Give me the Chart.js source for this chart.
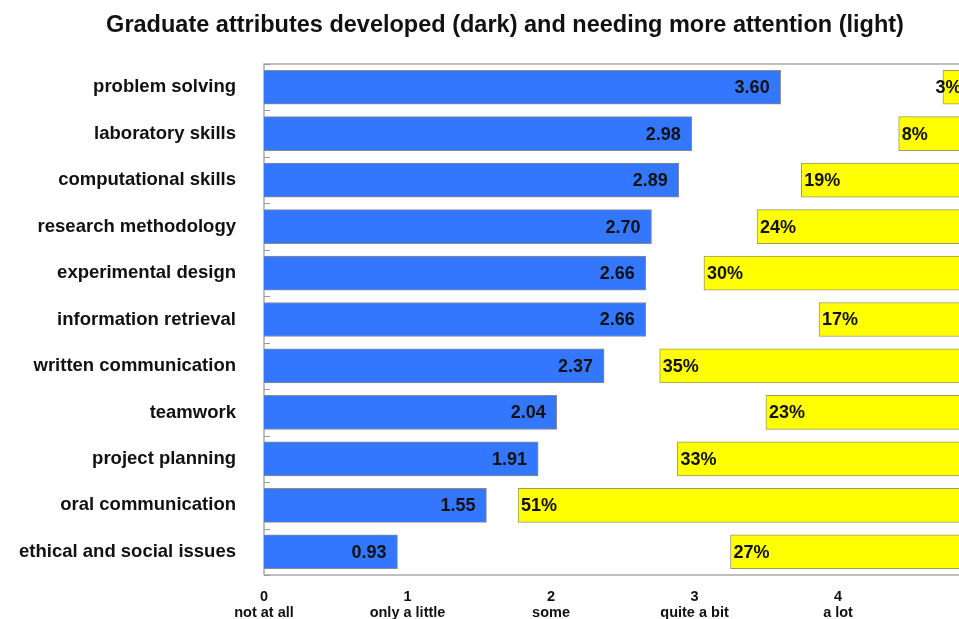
<!DOCTYPE html>
<html>
<head>
<meta charset="utf-8">
<script src="https://cdn.jsdelivr.net/npm/chart.js@4/dist/chart.umd.min.js"></script>
<style>
  html, body { margin: 0; padding: 0; overflow: hidden; background: #fff; }
  #wrap { width: 1010px; height: 619px; }
</style>
</head>
<body>
<div id="wrap"><canvas id="attrs" width="1010" height="619"></canvas></div>
<script>
// data
const attributes = ["problem solving", "laboratory skills", "computational skills",
  "research methodology", "experimental design", "information retrieval",
  "written communication", "teamwork", "project planning", "oral communication",
  "ethical and social issues"];
const developed = [3.60, 2.98, 2.89, 2.70, 2.66, 2.66, 2.37, 2.04, 1.91, 1.55, 0.93];
const needMore = [3, 8, 19, 24, 30, 17, 35, 23, 33, 51, 27];
const tickNumbers = ["0", "1", "2", "3", "4"];
const tickWords = ["not at all", "only a little", "some", "quite a bit", "a lot"];
const titleText = 'Graduate attributes developed (dark) and needing more attention (light)';

const FONT = "'Liberation Sans', Arial, sans-serif";

// frame + little inner ticks on the left axis + title (centred on the full page)
const framePlugin = {
  id: 'frame',
  beforeDatasetsDraw(chart) {
    const {ctx, chartArea: a} = chart;
    ctx.save();
    ctx.strokeStyle = '#aaa';
    ctx.lineWidth = 1.5;
    ctx.beginPath();
    ctx.moveTo(a.left, a.bottom); ctx.lineTo(a.left, a.top); ctx.lineTo(a.right, a.top);
    ctx.moveTo(a.left, a.bottom); ctx.lineTo(a.right, a.bottom);
    ctx.stroke();
    const step = (a.bottom - a.top) / attributes.length;
    ctx.strokeStyle = '#999';
    ctx.lineWidth = 1;
    for (let i = 0; i <= attributes.length; i++) {
      const y = Math.round(a.top + i * step) + 0.5;
      ctx.beginPath(); ctx.moveTo(a.left, y); ctx.lineTo(a.left + 6, y); ctx.stroke();
    }
    ctx.font = 'bold 23.5px ' + FONT;
    ctx.fillStyle = '#111';
    ctx.textAlign = 'center';
    ctx.textBaseline = 'middle';
    ctx.fillText(titleText, 505, 26);
    ctx.restore();
  }
};

const labelPlugin = {
  id: 'barLabels',
  afterDatasetsDraw(chart) {
    const {ctx, chartArea: a} = chart;
    ctx.save();
    ctx.font = 'bold 18px ' + FONT;
    ctx.fillStyle = '#111';
    ctx.textBaseline = 'middle';
    chart.getDatasetMeta(0).data.forEach((bar, i) => {
      ctx.textAlign = 'right';
      ctx.fillText(developed[i].toFixed(2), bar.x - 11, bar.y + 1);
    });
    chart.getDatasetMeta(1).data.forEach((bar, i) => {
      const txt = needMore[i] + '%';
      const w = ctx.measureText(txt).width;
      const left = Math.min(bar.x + 3, a.right - w - 8);
      ctx.textAlign = 'left';
      ctx.fillText(txt, left, bar.y + 1);
    });
    ctx.restore();
  }
};

const config = {
  type: 'bar',
  data: {
    labels: attributes,
    datasets: [
      {
        label: 'developed',
        data: developed,
        xAxisID: 'x',
        backgroundColor: '#3377ff',
        borderColor: '#8a8a8a',
        borderWidth: 1,
        grouped: false,
        barThickness: 34
      },
      {
        label: 'needing more attention',
        data: needMore.map(v => [0, v]),
        xAxisID: 'x2',
        backgroundColor: '#ffff00',
        borderColor: '#9a9a66',
        borderWidth: 1,
        borderSkipped: false,
        grouped: false,
        barThickness: 34
      }
    ]
  },
  options: {
    indexAxis: 'y',
    responsive: false,
    animation: false,
    layout: { padding: { left: 0, right: 40.5, top: 64, bottom: 0 } },
    plugins: {
      legend: { display: false },
      tooltip: { enabled: false },
      title: { display: false }
    },
    scales: {
      y: {
        grid: { display: false, drawTicks: false },
        border: { display: false },
        afterFit: (axis) => { axis.width = 264; },
        ticks: {
          padding: 28,
          color: '#111',
          font: { family: FONT, size: 18.5, weight: 'bold' }
        }
      },
      x: {
        min: 0,
        max: 4.916,
        grid: { display: false, drawTicks: false },
        border: { display: false },
        afterFit: (axis) => { axis.height = 44; },
        ticks: {
          stepSize: 1,
          includeBounds: false,
          maxRotation: 0,
          autoSkip: false,
          padding: 14,
          color: '#111',
          font: { family: FONT, size: 14.5, weight: 'bold', lineHeight: 1.1 },
          callback: (v) => Number.isInteger(v) ? [tickNumbers[v], tickWords[v]] : ''
        }
      },
      x2: {
        display: false,
        reverse: true,
        min: 0,
        max: 79.7
      }
    }
  },
  plugins: [framePlugin, labelPlugin]
};

const chart = new Chart(document.getElementById('attrs'), config);
</script>
</body>
</html>
